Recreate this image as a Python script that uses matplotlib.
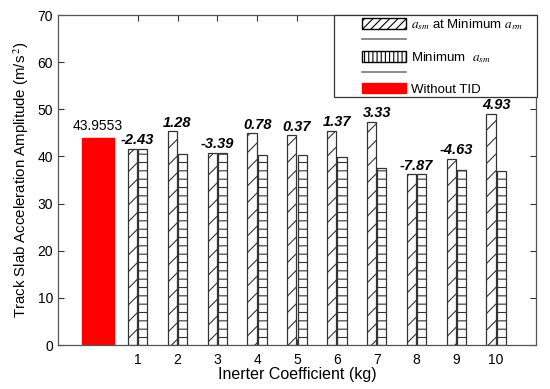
import numpy as np
import matplotlib
matplotlib.use('Agg')
import matplotlib.pyplot as plt
from matplotlib.patches import Patch, Rectangle
from matplotlib.lines import Line2D

plt.rcParams['font.family'] = ['Liberation Sans', 'DejaVu Sans']
plt.rcParams['mathtext.fontset'] = 'stix'
plt.rcParams['hatch.linewidth'] = 0.8

# data
coeff = [1, 2, 3, 4, 5, 6, 7, 8, 9, 10]
asm_at_min_arm = [41.6, 45.3, 40.7, 44.9, 44.5, 45.5, 47.4, 36.2, 39.5, 49.0]
min_asm = [41.6, 40.6, 40.7, 40.3, 40.3, 39.9, 37.5, 36.2, 37.1, 36.9]
change_labels = ['-2.43', '1.28', '-3.39', '0.78', '0.37', '1.37', '3.33', '-7.87', '-4.63', '4.93']
without_tid = 43.9553

fig = plt.figure(figsize=(5.5, 3.89), dpi=100)
ax = fig.add_axes([0.1055, 0.1131, 0.869, 0.8483])

x = np.array(coeff)
w = 0.23
ax.bar(0, without_tid, width=0.8, color='red', edgecolor='red')
ax.bar(x - 0.13, asm_at_min_arm, width=w, color='white', edgecolor='#333333',
       hatch='//', linewidth=0.9)
ax.bar(x + 0.13, min_asm, width=w, color='white', edgecolor='#333333',
       hatch='--', linewidth=0.9)

ax.text(0, without_tid + 1.6, f'{without_tid:.4f}', ha='center', va='baseline', fontsize=10)
for xi, h, lab in zip(x, asm_at_min_arm, change_labels):
    ax.text(xi, h + 1.0, lab, ha='center', va='baseline', fontsize=10.5,
            fontweight='bold', fontstyle='italic')

ax.set_xlim(-1, 11)
ax.set_ylim(0, 70)
ax.set_xticks(coeff)
ax.set_yticks(range(0, 71, 10))
ax.tick_params(direction='in', top=True, right=True, labelsize=10, colors='#333333',
               labelcolor='black', length=4)
ax.tick_params(axis='x', pad=6)
for s in ax.spines.values():
    s.set_color('#555555')
    s.set_linewidth(0.9)

ax.set_xlabel('Inerter Coefficient (kg)', fontsize=11.5, labelpad=0)
ax.set_ylabel('Track Slab Acceleration Amplitude (m/s$^{\\,2}$)', fontsize=10.8, labelpad=5)

# legend frame, drawn like the MATLAB box (wide left margin)
ax.add_patch(Rectangle((0.577, 0.7515), 0.425, 0.2485, transform=ax.transAxes,
                       facecolor='white', edgecolor='#333333', linewidth=0.9,
                       clip_on=False, zorder=5))

handles = [
    Patch(facecolor='white', edgecolor='black', hatch='////'),
    Line2D([], [], color='#777777', lw=1.2),
    Patch(facecolor='white', edgecolor='black', hatch='||||'),
    Line2D([], [], color='#777777', lw=1.2),
    Patch(facecolor='red', edgecolor='red'),
]
labels = ['$a_{sm}$ at Minimum $a_{rm}$', ' ', 'Minimum  $a_{sm}$', ' ', 'Without TID']
leg = ax.legend(handles, labels, loc='upper left', bbox_to_anchor=(0.636, 0.994),
                borderaxespad=0, borderpad=0, frameon=False, fontsize=9.5,
                handlelength=3.3, handleheight=0.85, labelspacing=0.2,
                handletextpad=0.45)
leg.set_zorder(6)

fig.savefig('out.png', dpi=100)
